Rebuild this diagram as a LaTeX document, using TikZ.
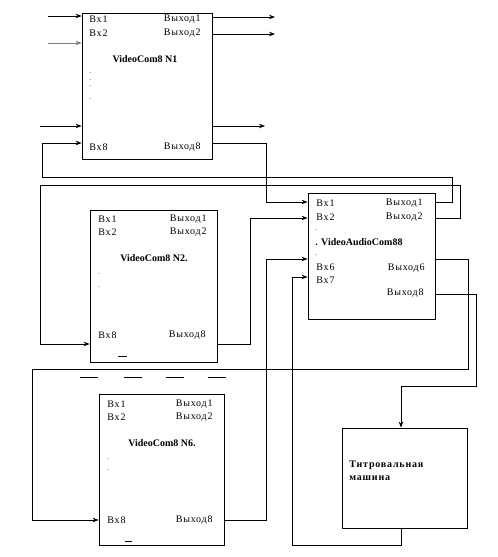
\documentclass[tikz,border=0pt]{standalone}
\usepackage{fontspec}
\setmainfont{Liberation Serif}
\newfontfamily\portfont[LetterSpace=8]{Liberation Serif}
\usetikzlibrary{arrows.meta}

\begin{document}
\begin{tikzpicture}[x=1pt,y=-1pt,line width=0.8pt,
  blok/.style={draw,rectangle,inner sep=0pt},
  vx/.style={anchor=west,inner sep=0pt,font=\portfont},
  vyx/.style={anchor=east,inner sep=0pt,font=\portfont},
  titl/.style={inner sep=0pt,font=\bfseries},
  pnt/.style={anchor=west,inner sep=0pt,font=\scriptsize},
  arr/.style={-{Stealth[length=6pt,width=4.5pt]}}]
  \useasboundingbox (0,0) rectangle (498,557);
  % blocks
  \node[blok,minimum width=130pt,minimum height=146pt] (n1) at (147,86) {};
  \node[blok,minimum width=127pt,minimum height=152pt] (n2) at (153.5,286) {};
  \node[blok,minimum width=125pt,minimum height=151pt] (n6) at (161.5,469.5) {};
  \node[blok,minimum width=127pt,minimum height=126pt] (vac) at (371.5,256) {};
  \node[blok,minimum width=125pt,minimum height=100pt] (tm) at (404.5,478) {};
  % VideoCom8 N1
  \node[vx] (n1a) at (89,19) {Вх1};
  \node[vx] (n1b) at (89,33) {Вх2};
  \node[vyx] (n1c) at (201,19) {Выход1};
  \node[vyx] (n1d) at (201,33) {Выход2};
  \node[titl] (n1t) at (145,59) {VideoCom8 N1};
  \foreach \y [count=\i] in {73,80,86,99} \node[pnt] (n1p\i) at (89,\y) {.};
  \node[vx] (n1e) at (89,147) {Вх8};
  \node[vyx] (n1f) at (201,147) {Выход8};
  % VideoCom8 N2
  \node[vx] (n2a) at (98,219) {Вх1};
  \node[vx] (n2b) at (98,232) {Вх2};
  \node[vyx] (n2c) at (207,219) {Выход1};
  \node[vyx] (n2d) at (207,232) {Выход2};
  \node[titl] (n2t) at (154,258) {VideoCom8 N2.};
  \foreach \y [count=\i] in {274,287} \node[pnt] (n2p\i) at (98,\y) {.};
  \node[vx] (n2e) at (98,335) {Вх8};
  \node[vyx] (n2f) at (206,335) {Выход8};
  \draw (118,356) -- (127,356);
  % VideoCom8 N6
  \node[vx] (n6a) at (107,404) {Вх1};
  \node[vx] (n6b) at (107,417) {Вх2};
  \node[vyx] (n6c) at (213,404) {Выход1};
  \node[vyx] (n6d) at (213,417) {Выход2};
  \node[titl] (n6t) at (162,443) {VideoCom8 N6.};
  \foreach \y [count=\i] in {459,470} \node[pnt] (n6p\i) at (107,\y) {.};
  \node[vx] (n6e) at (107,520) {Вх8};
  \node[vyx] (n6f) at (213,520) {Выход8};
  \draw (125,541) -- (132,541);
  % VideoAudioCom88
  \node[vx] (va) at (316,203) {Вх1};
  \node[vx] (vb) at (316,217) {Вх2};
  \node[vyx] (vc) at (423,203) {Выход1};
  \node[vyx] (vd) at (423,217) {Выход2};
  \node[pnt] (vp1) at (315,230) {.};
  \node[titl,anchor=west] (vt) at (315,242) {. VideoAudioCom88};
  \node[pnt] (vp2) at (315,255) {.};
  \node[vx] (ve) at (316,267) {Вх6};
  \node[vx] (vf) at (316,280) {Вх7};
  \node[vyx] (vg) at (425,268) {Выход6};
  \node[vyx] (vh) at (424,293) {Выход8};
  % Titrovalnaya mashina
  \node[vx,font=\portfont\bfseries] (tma) at (349,465) {Титровальная};
  \node[vx,font=\portfont\bfseries] (tmb) at (349,478) {машина};
  % dashes between blocks
  \foreach \x in {80,124,166,208} \draw (\x,377) -- ++(18,0);
  % ports
  \coordinate (n1i1) at (n1.west |- 0,16);
  \coordinate (n1i2) at (n1.west |- 0,43);
  \coordinate (n1i3) at (n1.west |- 0,126);
  \coordinate (n1i8) at (n1.west |- 0,143);
  \coordinate (n1o1) at (n1.east |- 0,17);
  \coordinate (n1o2) at (n1.east |- 0,34);
  \coordinate (n1o3) at (n1.east |- 0,126);
  \coordinate (n1o8) at (n1.east |- 0,143);
  \coordinate (n2i8) at (n2.west |- 0,344);
  \coordinate (n2o8) at (n2.east |- 0,344);
  \coordinate (n6i8) at (n6.west |- 0,520);
  \coordinate (n6o8) at (n6.east |- 0,520);
  \coordinate (vi1) at (vac.west |- 0,202);
  \coordinate (vi2) at (vac.west |- 0,218);
  \coordinate (vi6) at (vac.west |- 0,259);
  \coordinate (vi7) at (vac.west |- 0,277);
  \coordinate (vo1) at (vac.east |- 0,202);
  \coordinate (vo2) at (vac.east |- 0,218);
  \coordinate (vo6) at (vac.east |- 0,259);
  \coordinate (vo8) at (vac.east |- 0,294);
  \coordinate (tmi) at (tm.north -| 401,0);
  \coordinate (tmo) at (tm.south -| 401,0);
  % free ends
  \coordinate (in1) at (48,16);
  \coordinate (in2) at (48,43);
  \coordinate (in3) at (40,126);
  \coordinate (out1) at (275,17);
  \coordinate (out2) at (275,34);
  \coordinate (out3) at (265,126);
  % connectors
  \draw[arr] (in1) -- (n1i1);
  \draw[arr,gray] (in2) -- (n1i2);
  \draw[arr] (in3) -- (n1i3);
  \draw[arr] (n1o1) -- (out1);
  \draw[arr] (n1o2) -- (out2);
  \draw[arr] (n1o3) -- (out3);
  \draw[arr] (n1o8) -| (266,202) -- (vi1);
  \draw[arr] (vo1) -| (452,177) -| (42,143) -- (n1i8);
  \draw[arr] (vo2) -| (460,185) -| (40,344) -- (n2i8);
  \draw[arr] (n2o8) -| (250,218) -- (vi2);
  \draw[arr] (n6o8) -| (266,259) -- (vi6);
  \draw[arr] (vo6) -| (468,369) -| (32,520) -- (n6i8);
  \draw[arr] (vo8) -| (476,386) -| (tmi);
  \draw[arr] (tmo) -- (401,545) -| (292,277) -- (vi7);
\end{tikzpicture}
\end{document}
